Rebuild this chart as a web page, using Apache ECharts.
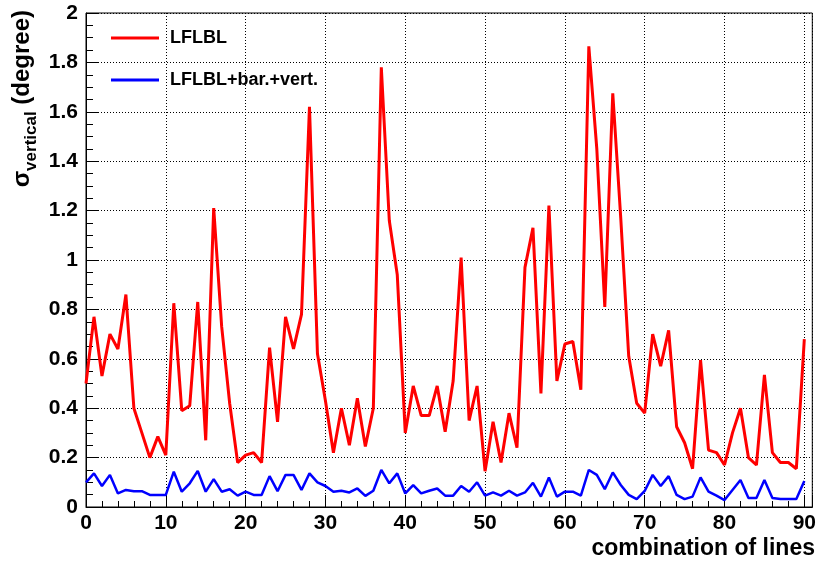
<!DOCTYPE html>
<html>
<head>
<meta charset="utf-8">
<script src="https://cdn.jsdelivr.net/npm/echarts@6/dist/echarts.min.js"></script>
<style>
html,body{margin:0;padding:0;background:#fff;}
#chart{width:819px;height:562px;}
</style>
</head>
<body>
<div id="chart"></div>
<script>
// combination index (x)
var combos = Array.from({length: 91}, function (_, i) { return i; });

var seriesNames = ['LFLBL', 'LFLBL+bar.+vert.'];

// sigma_vertical (degree), LFLBL
var lflbl = [
  0.50, 0.77, 0.53, 0.70, 0.64, 0.86, 0.40, 0.30, 0.20, 0.285,
  0.21, 0.825, 0.39, 0.41, 0.83, 0.27, 1.21, 0.73, 0.42, 0.18,
  0.21, 0.22, 0.18, 0.645, 0.345, 0.77, 0.64, 0.78, 1.62, 0.62,
  0.43, 0.22, 0.40, 0.25, 0.44, 0.245, 0.40, 1.78, 1.16, 0.94,
  0.30, 0.49, 0.37, 0.37, 0.49, 0.305, 0.51, 1.01, 0.35, 0.49,
  0.145, 0.345, 0.18, 0.38, 0.24, 0.97, 1.13, 0.46, 1.22, 0.51,
  0.66, 0.67, 0.475, 1.865, 1.45, 0.81, 1.675, 1.17, 0.61, 0.42,
  0.38, 0.70, 0.57, 0.715, 0.325, 0.26, 0.155, 0.595, 0.23, 0.22,
  0.17, 0.30, 0.40, 0.20, 0.17, 0.535, 0.22, 0.18, 0.18, 0.155,
  0.68
];

// sigma_vertical (degree), LFLBL+bar.+vert.
var lflblBarVert = [
  0.10, 0.136, 0.085, 0.13, 0.055, 0.069, 0.064, 0.064, 0.049, 0.049,
  0.049, 0.143, 0.062, 0.096, 0.146, 0.062, 0.113, 0.062, 0.072, 0.046,
  0.062, 0.049, 0.049, 0.125, 0.064, 0.13, 0.13, 0.069, 0.136, 0.10,
  0.085, 0.062, 0.066, 0.059, 0.075, 0.045, 0.066, 0.15, 0.096, 0.136,
  0.055, 0.089, 0.055, 0.066, 0.075, 0.046, 0.046, 0.085, 0.062, 0.10,
  0.046, 0.059, 0.046, 0.066, 0.046, 0.059, 0.098, 0.042, 0.119, 0.042,
  0.062, 0.062, 0.046, 0.15, 0.13, 0.072, 0.14, 0.089, 0.049, 0.032,
  0.065, 0.13, 0.085, 0.125, 0.049, 0.032, 0.042, 0.12, 0.062, 0.046,
  0.028, 0.069, 0.109, 0.036, 0.036, 0.109, 0.036, 0.032, 0.032, 0.032,
  0.105
];

var FONT = "'Liberation Sans', Arial, Helvetica, sans-serif";

var chart = echarts.init(document.getElementById('chart'), null, {renderer: 'canvas'});

var option = {
  animation: false,
  backgroundColor: '#ffffff',
  grid: {
    left: 86, right: 5, top: 13, bottom: 55,
    show: true, borderColor: '#000', borderWidth: 1, backgroundColor: 'transparent'
  },
  legend: {
    orient: 'vertical',
    left: 106, top: 23,
    itemWidth: 48, itemHeight: 3, itemGap: 22,
    icon: 'rect',
    data: seriesNames,
    textStyle: {
      fontFamily: FONT, fontWeight: 'bold', fontSize: 18, color: '#000',
      lineHeight: 20, padding: [0, 0, 0, 6]
    }
  },
  xAxis: [{
    type: 'value', min: 0, max: 91, interval: 10,
    axisLine: {show: true, lineStyle: {color: '#000', width: 1}},
    axisTick: {show: true, inside: true, length: 12, lineStyle: {color: '#000'}},
    axisLabel: {
      margin: 6, fontFamily: FONT, fontWeight: 'bold', fontSize: 21, color: '#000',
      formatter: function (v) { return v % 10 === 0 ? String(v) : ''; }
    },
    splitLine: {show: true, lineStyle: {color: '#000', type: [1, 2], width: 1}}
  }, {
    type: 'value', min: 0, max: 91, interval: 2, position: 'bottom',
    axisLine: {show: false},
    axisTick: {show: true, inside: true, length: 6, lineStyle: {color: '#000'}},
    axisLabel: {show: false},
    splitLine: {show: false}
  }],
  yAxis: {
    type: 'value', min: 0, max: 2, interval: 0.2,
    axisLine: {show: true, lineStyle: {color: '#000', width: 1}},
    axisTick: {show: true, inside: true, length: 12, lineStyle: {color: '#000'}},
    minorTick: {show: true, splitNumber: 4, length: 7, lineStyle: {color: '#000'}},
    axisLabel: {
      margin: 8, fontFamily: FONT, fontWeight: 'bold', fontSize: 21, color: '#000'
    },
    splitLine: {show: true, lineStyle: {color: '#000', type: [1, 2], width: 1}}
  },
  graphic: [{
    type: 'text',
    x: 815, y: 549,
    style: {
      text: 'combination of lines',
      font: 'bold 23px ' + FONT,
      fill: '#000',
      align: 'right',
      verticalAlign: 'middle'
    }
  }, {
    type: 'text',
    x: 25, y: 10,
    rotation: Math.PI / 2,
    style: {
      text: '{a|σ}{b|vertical}{a| (degree)}',
      align: 'right',
      verticalAlign: 'middle',
      fill: '#000',
      rich: {
        a: {fontFamily: FONT, fontWeight: 'bold', fontSize: 24, fill: '#000', padding: [0, 0, 6, 0], verticalAlign: 'bottom'},
        b: {fontFamily: FONT, fontWeight: 'bold', fontSize: 17, fill: '#000', verticalAlign: 'bottom'}
      }
    }
  }],
  series: [{
    name: seriesNames[0],
    type: 'line',
    xAxisIndex: 0,
    data: lflbl.map(function (v, i) { return [combos[i], v]; }),
    showSymbol: false,
    symbol: 'none',
    lineStyle: {color: '#ff0000', width: 3},
    itemStyle: {color: '#ff0000'},
    z: 3
  }, {
    name: seriesNames[1],
    type: 'line',
    xAxisIndex: 0,
    data: lflblBarVert.map(function (v, i) { return [combos[i], v]; }),
    showSymbol: false,
    symbol: 'none',
    lineStyle: {color: '#0000ff', width: 2.5},
    itemStyle: {color: '#0000ff'},
    z: 4
  }]
};

chart.setOption(option);
</script>
</body>
</html>
